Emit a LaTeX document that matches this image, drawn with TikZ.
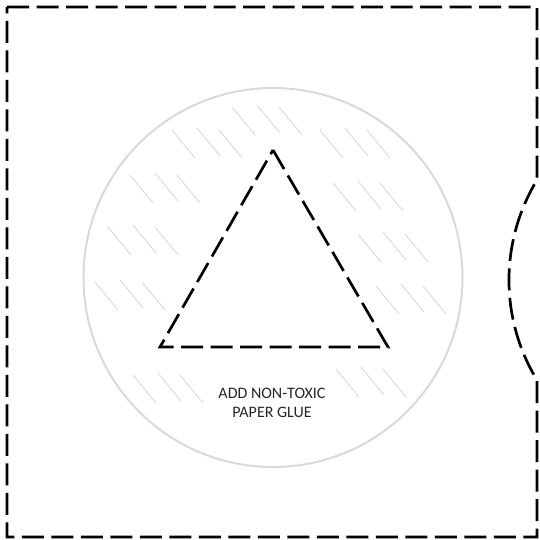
\documentclass[tikz,border=0pt]{standalone}
\usepackage{fontspec}
\setmainfont{Carlito}
\usetikzlibrary{positioning}

\begin{document}
\begin{tikzpicture}[
    x=1pt, y=-1pt,
    cutline/.style={draw=black, line width=2.7pt, dash pattern=on 22pt off 7.5pt},
    glue/.style={circle, draw=black!15, line width=2pt, minimum size=379pt, inner sep=0pt},
    hatch/.style={draw=black!15, line width=0.9pt},
    note/.style={align=center, text=black!85, font=\fontsize{16}{19}\selectfont}
]
\useasboundingbox (0,0) rectangle (540,539);

% glue area
\node[glue] (area) at (273,277.5) {};
\foreach \gx/\gy in {172/130, 130/175, 108/227, 95/282, 133/375,
                     232/107,
                     320/130, 333/183, 358/234, 376/286, 336/369}
  \foreach \dx/\dy in {0/0, 25/-2, 47/0}
    \draw[hatch] (\gx+\dx,\gy+\dy) -- ++(23,28);

% cut-out triangle
\coordinate (top) at (273,150);
\coordinate (left) at (160,347);
\coordinate (right) at (388,347);
\draw[cutline, line join=miter] (top) -- (right) -- (left) -- cycle;

\node[note] (label) at (272,403) {ADD NON-TOXIC\\PAPER GLUE};

% outer cut line with notch
\coordinate (nw) at (7,7);
\coordinate (ne) at (537,7);
\coordinate (se) at (537,537);
\coordinate (sw) at (7,537);
\coordinate (notch) at (537,180);
\draw[cutline] (nw) -- (ne) -- (notch)
  arc[start angle=211.3, end angle=148.7, radius=192.6]
  -- (se) -- (sw) -- cycle;

\end{tikzpicture}
\end{document}
